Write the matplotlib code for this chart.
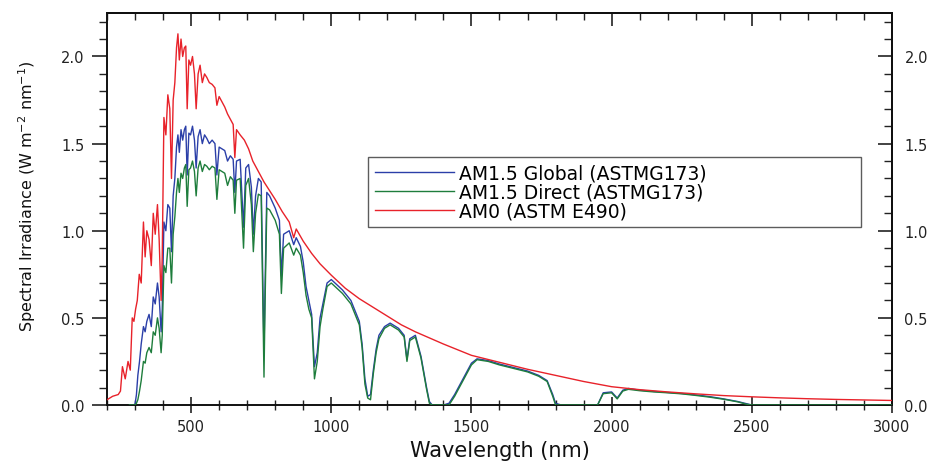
import matplotlib
matplotlib.use("Agg")
import matplotlib.pyplot as plt
from matplotlib.ticker import MultipleLocator, FormatStrFormatter

# ---------------- data ----------------
wl_am0 = [200, 220, 240, 248, 255, 265, 275, 283, 290, 296, 302, 308, 315, 322,
          330, 336, 342, 350, 358, 365, 372, 380, 386, 393, 397, 403, 410, 417,
          424, 430, 436, 442, 448, 453, 458, 464, 470, 476, 481, 486, 492, 498,
          505, 512, 518, 525, 532, 540, 548, 556, 565, 575, 585, 592, 600, 610,
          620, 630, 640, 650, 656, 662, 675, 690, 705, 720, 740, 760, 780, 800,
          825, 850, 866, 875, 900, 930, 960, 1000, 1050, 1100, 1150, 1200, 1250,
          1300, 1400, 1500, 1600, 1700, 1800, 1900, 2000, 2100, 2200, 2300, 2400,
          2500, 2600, 2700, 2800, 2900, 3000]
am0 = [0.03, 0.05, 0.06, 0.08, 0.22, 0.15, 0.25, 0.20, 0.50, 0.48, 0.55, 0.60,
       0.75, 0.70, 1.05, 0.85, 1.00, 0.95, 0.80, 1.10, 0.98, 1.15, 0.95, 0.60,
       0.85, 1.65, 1.55, 1.78, 1.70, 1.30, 1.75, 1.85, 2.05, 2.13, 1.98, 2.10,
       2.00, 2.05, 2.06, 1.70, 1.98, 1.95, 2.00, 1.90, 1.70, 1.90, 1.95, 1.85,
       1.90, 1.88, 1.85, 1.84, 1.82, 1.72, 1.77, 1.74, 1.71, 1.67, 1.64, 1.61,
       1.42, 1.58, 1.55, 1.52, 1.47, 1.40, 1.34, 1.28, 1.23, 1.18, 1.11, 1.05,
       0.96, 1.01, 0.94, 0.87, 0.81, 0.745, 0.67, 0.61, 0.56, 0.51, 0.46, 0.42,
       0.35, 0.285, 0.245, 0.205, 0.17, 0.135, 0.105, 0.088, 0.075, 0.064,
       0.054, 0.047, 0.041, 0.036, 0.032, 0.029, 0.026]

wl_atm = [280, 295, 300, 305, 310, 316, 322, 330, 336, 342, 350, 358, 365, 372,
          380, 386, 393, 397, 403, 410, 417, 424, 430, 436, 442, 448, 453, 458,
          464, 470, 476, 481, 486, 492, 498, 505, 512, 518, 525, 532, 540, 548,
          556, 565, 575, 585, 592, 600, 610, 620, 630, 640, 650, 656, 662, 675,
          687, 695, 705, 715, 722, 730, 740, 750, 760, 764, 770, 780, 800, 815,
          822, 830, 850, 866, 875, 890, 900, 910, 920, 930, 940, 950, 960, 970,
          985, 1000, 1040, 1070, 1100, 1110, 1120, 1130, 1140, 1150, 1160, 1170,
          1190, 1210, 1240, 1260, 1270, 1280, 1300, 1320, 1340, 1350, 1360, 1380,
          1400, 1420, 1440, 1460, 1480, 1500, 1520, 1560, 1600, 1650, 1700, 1740,
          1770, 1790, 1800, 1820, 1850, 1900, 1950, 1970, 2000, 2020, 2040, 2060,
          2100, 2150, 2200, 2250, 2300, 2350, 2400, 2450, 2480, 2500, 2600, 2800,
          3000]
am15_global = [0.0, 0.0, 0.005, 0.06, 0.17, 0.25, 0.35, 0.45, 0.42, 0.48, 0.52,
               0.45, 0.62, 0.58, 0.70, 0.62, 0.42, 0.55, 1.05, 1.00, 1.15, 1.13,
               0.88, 1.20, 1.30, 1.48, 1.55, 1.45, 1.58, 1.52, 1.58, 1.60, 1.32,
               1.56, 1.55, 1.60, 1.52, 1.36, 1.54, 1.58, 1.50, 1.55, 1.53, 1.50,
               1.52, 1.50, 1.32, 1.48, 1.47, 1.46, 1.40, 1.43, 1.41, 1.22, 1.40,
               1.41, 1.02, 1.36, 1.38, 1.25, 0.98, 1.20, 1.30, 1.28, 0.30, 0.70,
               1.22, 1.20, 1.13, 1.06, 0.74, 0.98, 1.00, 0.92, 0.96, 0.91, 0.82,
               0.68, 0.60, 0.52, 0.22, 0.30, 0.50, 0.58, 0.70, 0.72, 0.66, 0.60,
               0.48, 0.35, 0.15, 0.05, 0.06, 0.20, 0.32, 0.40, 0.45, 0.47, 0.44,
               0.40, 0.26, 0.38, 0.40, 0.28, 0.10, 0.02, 0.0, 0.0, 0.0, 0.01,
               0.06, 0.12, 0.18, 0.24, 0.265, 0.255, 0.235, 0.215, 0.195, 0.17,
               0.14, 0.06, 0.01, 0.0, 0.0, 0.0, 0.0, 0.07, 0.075, 0.04, 0.085,
               0.095, 0.085, 0.078, 0.072, 0.066, 0.058, 0.048, 0.035, 0.02,
               0.008, 0.0, 0.0, 0.0, 0.0]
am15_direct = [0.0, 0.0, 0.0, 0.01, 0.03, 0.08, 0.14, 0.25, 0.24, 0.30, 0.33,
               0.30, 0.42, 0.40, 0.50, 0.44, 0.30, 0.40, 0.80, 0.76, 0.90, 0.90,
               0.70, 0.98, 1.08, 1.22, 1.30, 1.22, 1.33, 1.30, 1.36, 1.38, 1.14,
               1.35, 1.36, 1.40, 1.34, 1.20, 1.36, 1.40, 1.34, 1.38, 1.37, 1.35,
               1.37, 1.36, 1.18, 1.35, 1.34, 1.33, 1.26, 1.31, 1.29, 1.10, 1.29,
               1.30, 0.90, 1.26, 1.30, 1.15, 0.88, 1.10, 1.21, 1.20, 0.16, 0.60,
               1.13, 1.12, 1.06, 0.98, 0.64, 0.90, 0.93, 0.86, 0.90, 0.86, 0.76,
               0.63, 0.55, 0.50, 0.15, 0.25, 0.45, 0.55, 0.68, 0.70, 0.64, 0.58,
               0.46, 0.33, 0.12, 0.04, 0.03, 0.18, 0.30, 0.38, 0.44, 0.46, 0.43,
               0.39, 0.25, 0.37, 0.39, 0.27, 0.09, 0.01, 0.0, 0.0, 0.0, 0.0,
               0.05, 0.11, 0.17, 0.23, 0.26, 0.25, 0.23, 0.21, 0.19, 0.165,
               0.135, 0.05, 0.0, 0.0, 0.0, 0.0, 0.0, 0.065, 0.07, 0.035, 0.08,
               0.09, 0.082, 0.075, 0.07, 0.064, 0.055, 0.045, 0.033, 0.018,
               0.005, 0.0, 0.0, 0.0, 0.0]

labels = ["AM1.5 Global (ASTMG173)", "AM1.5 Direct (ASTMG173)", "AM0 (ASTM E490)"]
colors = ["#2b3fa8", "#1e7d3c", "#e8222a"]
x_major = [500, 1000, 1500, 2000, 2500, 3000]
y_major = [0.0, 0.5, 1.0, 1.5, 2.0]

# ---------------- figure ----------------
fig = plt.figure(figsize=(9.37, 4.64), dpi=100)
ax = fig.add_axes([0.1142, 0.125, 0.8377, 0.845])

ax.plot(wl_atm, am15_global, color=colors[0], lw=1.0, label=labels[0], zorder=2)
ax.plot(wl_atm, am15_direct, color=colors[1], lw=1.0, label=labels[1], zorder=3)
ax.plot(wl_am0, am0, color=colors[2], lw=1.0, label=labels[2], zorder=4)

ax.set_xlim(200, 3000)
ax.set_ylim(0, 2.25)
ax.set_xticks(x_major)
ax.set_yticks(y_major)
ax.xaxis.set_minor_locator(MultipleLocator(100))
ax.yaxis.set_minor_locator(MultipleLocator(0.1))
ax.yaxis.set_major_formatter(FormatStrFormatter("%.1f"))

tick_col = "#222222"
ax.tick_params(axis="y", which="major", direction="out", length=11, width=1.2,
               labelsize=10.5, pad=5, colors=tick_col)
ax.tick_params(axis="y", which="minor", direction="out", length=6, width=1.0, colors=tick_col)
ax.tick_params(axis="x", which="major", direction="inout", length=12, width=1.2,
               labelsize=10.5, pad=4, colors=tick_col)
ax.tick_params(axis="x", which="minor", direction="inout", length=7, width=1.0, colors=tick_col)

for s in ax.spines.values():
    s.set_linewidth(1.4)
    s.set_color("#111111")

# right axis (ticks inward, labelled)
sec_y = ax.secondary_yaxis("right")
sec_y.set_yticks(y_major)
sec_y.yaxis.set_minor_locator(MultipleLocator(0.1))
sec_y.yaxis.set_major_formatter(FormatStrFormatter("%.1f"))
sec_y.tick_params(which="major", direction="in", length=10, width=1.2,
                  labelsize=10.5, pad=9, colors=tick_col)
sec_y.tick_params(which="minor", direction="in", length=6, width=1.0, colors=tick_col)
sec_y.spines["right"].set_linewidth(1.4)

# top axis (ticks inward, no labels)
sec_x = ax.secondary_xaxis("top")
sec_x.set_xticks(x_major)
sec_x.xaxis.set_minor_locator(MultipleLocator(100))
sec_x.tick_params(which="major", direction="in", length=9, width=1.2, labeltop=False, colors=tick_col)
sec_x.tick_params(which="minor", direction="in", length=5, width=1.0, colors=tick_col)
sec_x.spines["top"].set_linewidth(1.4)

ax.set_xlabel("Wavelength (nm)", fontsize=15, color="#111111")
ax.xaxis.set_label_coords(0.5, -0.09)
ax.set_ylabel("Spectral Irradiance (W m$^{-2}$ nm$^{-1}$)", fontsize=11.5, color="#111111")
ax.yaxis.set_label_coords(-0.088, 0.535)

leg = ax.legend(loc="center left", bbox_to_anchor=(0.333, 0.444, 0.627, 0.199),
                mode="expand", fontsize=13.5, frameon=True, fancybox=False,
                edgecolor="#333333", handlelength=4.2, handletextpad=0.3,
                labelspacing=0.0, borderpad=0.35, borderaxespad=0.0)
leg.get_frame().set_linewidth(1.0)

fig.savefig("out.png", dpi=100)
